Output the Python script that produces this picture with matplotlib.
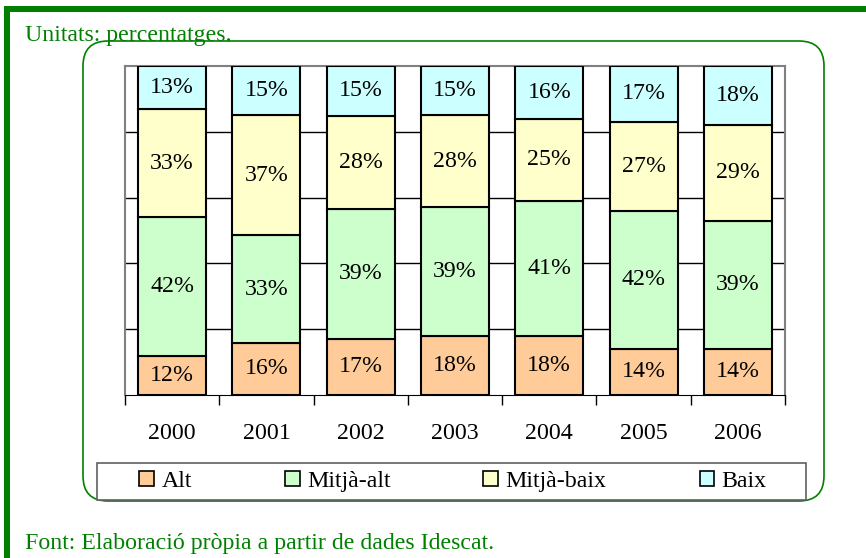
import numpy as np
import matplotlib.pyplot as plt
from matplotlib.patches import FancyBboxPatch, Rectangle

plt.rcParams['font.family'] = ['Liberation Serif', 'DejaVu Serif']

# data (percentages)
years = ['2000', '2001', '2002', '2003', '2004', '2005', '2006']
alt = [12, 16, 17, 18, 18, 14, 14]
mitja_alt = [42, 33, 39, 39, 41, 42, 39]
mitja_baix = [33, 37, 28, 28, 25, 27, 29]
baix = [13, 15, 15, 15, 16, 17, 18]

series = [alt, mitja_alt, mitja_baix, baix]
names = ['Alt', 'Mitjà-alt', 'Mitjà-baix', 'Baix']
colors = ['#FFCC99', '#CCFFCC', '#FFFFCC', '#CCFFFF']
green = '#008000'
fs = 17.2

W, H = 866, 558
fig = plt.figure(figsize=(W / 100, H / 100), dpi=100)

# background layer in pixel coordinates
bg = fig.add_axes([0, 0, 1, 1])
bg.set_xlim(0, W)
bg.set_ylim(H, 0)
bg.axis('off')
bg.add_patch(Rectangle((4, 6), W, 6, color=green, lw=0))
bg.add_patch(Rectangle((4, 6), 6, H, color=green, lw=0))
bg.add_patch(FancyBboxPatch((83 + 25, 41 + 25), 741 - 50, 460 - 50,
                            boxstyle='round,pad=25', fc='none', ec=green, lw=1.2))
bg.text(25, 41, 'Unitats: percentatges.', color=green, fontsize=fs, va='baseline')
bg.text(25, 549, 'Font: Elaboració pròpia a partir de dades Idescat.',
        color=green, fontsize=fs, va='baseline')
# legend frame
bg.add_patch(Rectangle((97, 463), 709, 37, fc='white', ec='#606060', lw=1.2, zorder=2))

# plot area
ax = fig.add_axes([125 / W, 1 - 395 / H, 660 / W, 329 / H])
x = np.arange(len(years))
vals = np.array(series, dtype=float)
pct = vals / vals.sum(axis=0) * 100
bottom = np.zeros(len(years))
for i in range(len(series)):
    ax.bar(x, pct[i], bottom=bottom, width=0.72, color=colors[i],
           edgecolor='black', linewidth=1.5, label=names[i], zorder=3)
    for j in range(len(years)):
        ax.text(x[j], bottom[j] + pct[i][j] / 2, f'{series[i][j]}%',
                ha='center', va='center', fontsize=fs, zorder=4)
    bottom += pct[i]

ax.set_xlim(-0.5, len(years) - 0.5)
ax.set_ylim(0, 100)
for yv in [20, 40, 60, 80]:
    ax.axhline(yv, color='black', lw=1, zorder=1)
ax.set_yticks([])
ax.set_xticks(np.arange(-0.5, len(years)), minor=False)
ax.set_xticklabels([])
ax.tick_params(axis='x', which='major', direction='out', length=7, width=1, color='black')
ax.set_xticks(x, minor=True)
ax.set_xticklabels(years, minor=True, fontsize=fs)
ax.tick_params(axis='x', which='minor', length=0, pad=20)
for s in ['left', 'top', 'right']:
    ax.spines[s].set_color('#808080')
    ax.spines[s].set_linewidth(1.5)
ax.spines['bottom'].set_color('black')

leg = ax.legend(loc='center', bbox_to_anchor=(453 / W, 1 - 481.5 / H),
                bbox_transform=fig.transFigure, ncol=4, frameon=False,
                fontsize=fs, handlelength=0.62, handleheight=0.62, handletextpad=0.3,
                columnspacing=3.9, borderpad=0)
for h in leg.legend_handles:
    h.set_linewidth(1.2)

fig.savefig('out.png', dpi=100)
